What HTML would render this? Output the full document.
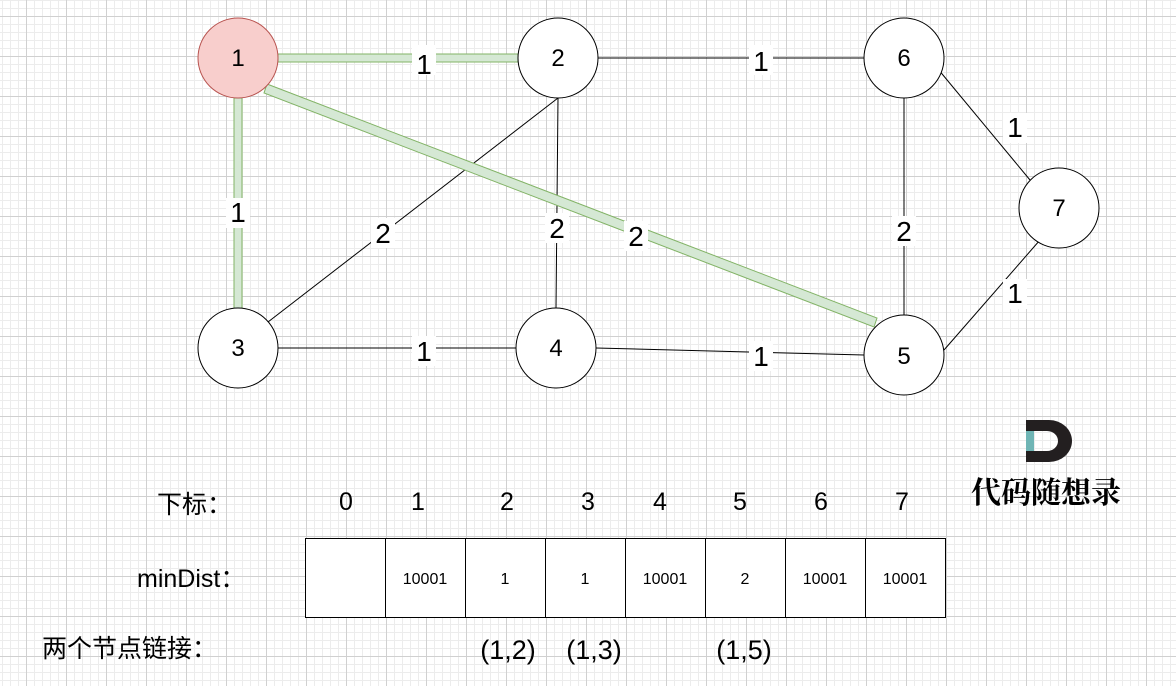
<!DOCTYPE html><html><head><style>
body{margin:0;width:1176px;height:686px;overflow:hidden;background:#fff;
background-image:linear-gradient(#d0d0d0 1px,transparent 1px),linear-gradient(90deg,#d0d0d0 1px,transparent 1px),linear-gradient(#ececec 1px,transparent 1px),linear-gradient(90deg,#ececec 1px,transparent 1px);
background-size:40px 40px,40px 40px,8px 8px,8px 8px;background-position:26px 16px,26px 16px,2px 0,2px 0;font-family:"Liberation Sans","Noto Sans CJK SC",sans-serif}
svg{position:absolute;left:0;top:0}
</style></head><body>
<svg width="1176" height="686" font-family="Liberation Sans, Noto Sans CJK SC, sans-serif">
<g stroke="#000" stroke-width="1">
<line x1="598" y1="58" x2="864" y2="58"/><line x1="933" y1="63" x2="1030" y2="180"/>
<line x1="1040" y1="240" x2="944" y2="350"/><line x1="904" y1="98" x2="904" y2="315"/>
<line x1="558" y1="98" x2="556" y2="308"/><line x1="558" y1="98" x2="268" y2="322"/>
<line x1="278" y1="348" x2="516" y2="348"/><line x1="596" y1="348" x2="864" y2="355"/>
</g>
<g fill="#d5e8d4" stroke="#82b366" stroke-width="1">
<rect x="278" y="54" width="240" height="8"/>
<rect x="234" y="98" width="8" height="212"/>
<polygon points="267,84 877,318 874,327 264,93"/>
</g>
<g font-size="28" text-anchor="middle">
<g fill="#fff"><rect x="412" y="45" width="24" height="30"/><rect x="749" y="45" width="24" height="30"/><rect x="1003" y="113" width="24" height="30"/><rect x="1003" y="279" width="24" height="30"/><rect x="892" y="216" width="24" height="30"/><rect x="226" y="198" width="24" height="30"/><rect x="371" y="218" width="24" height="30"/><rect x="545" y="213" width="24" height="30"/><rect x="624" y="221" width="24" height="30"/><rect x="412" y="336" width="24" height="30"/><rect x="749" y="341" width="24" height="30"/></g>
<text x="424" y="74">1</text><text x="761" y="71">1</text><text x="1015" y="137">1</text><text x="1015" y="303">1</text><text x="904" y="241">2</text><text x="238" y="222">1</text><text x="383" y="243">2</text><text x="557" y="238">2</text><text x="636" y="246">2</text><text x="424" y="361">1</text><text x="761" y="366">1</text>
</g>
<g stroke="#000" fill="#fff"><circle cx="238" cy="58" r="40" fill="#f8cecc" stroke="#b85450"/>
<circle cx="558" cy="58" r="40"/><circle cx="904" cy="58" r="40"/><circle cx="1059" cy="208" r="40"/>
<circle cx="238" cy="348" r="40"/><circle cx="556" cy="348" r="40"/><circle cx="904" cy="355" r="40"/></g>
<g font-size="24" text-anchor="middle">
<text x="238" y="66">1</text><text x="558" y="66">2</text><text x="904" y="66">6</text><text x="1059" y="216">7</text><text x="238" y="356">3</text><text x="556" y="356">4</text><text x="904" y="364">5</text>
</g>
<path d="M1026 420 H1049 A23 21 0 0 1 1049 462 H1026 Z M1034 431 V451 H1047 A11 10 0 0 0 1047 431 Z" fill="#231f20" fill-rule="evenodd"/>
<rect x="1026" y="431" width="8" height="20" fill="#6fb5b5"/>
<rect x="1026" y="420" width="8" height="11" fill="#231f20"/>
<text x="1046" y="503" font-size="30" font-weight="bold" text-anchor="middle" font-family="Noto Serif CJK SC, serif">代码随想录</text>
<g font-size="25"><text x="157" y="513">下标：</text><text x="137" y="587">minDist：</text><text x="42" y="657">两个节点链接：</text></g>
<g font-size="25" text-anchor="middle"><text x="346" y="510">0</text><text x="418" y="510">1</text><text x="507" y="510">2</text><text x="588" y="510">3</text><text x="660" y="510">4</text><text x="740" y="510">5</text><text x="821" y="510">6</text><text x="902" y="510">7</text></g>
<g font-size="27" text-anchor="middle"><text x="508" y="659">(1,2)</text><text x="594" y="659">(1,3)</text><text x="744" y="659">(1,5)</text></g>
<g stroke="#000" fill="#fff"><rect x="305.5" y="538.5" width="640" height="79"/></g>
<g stroke="#000"><line x1="385.5" y1="538" x2="385.5" y2="618"/><line x1="465.5" y1="538" x2="465.5" y2="618"/><line x1="545.5" y1="538" x2="545.5" y2="618"/><line x1="625.5" y1="538" x2="625.5" y2="618"/><line x1="705.5" y1="538" x2="705.5" y2="618"/><line x1="785.5" y1="538" x2="785.5" y2="618"/><line x1="865.5" y1="538" x2="865.5" y2="618"/></g>
<g font-size="16" text-anchor="middle"><text x="425" y="584">10001</text><text x="505" y="584">1</text><text x="585" y="584">1</text><text x="665" y="584">10001</text><text x="745" y="584">2</text><text x="825" y="584">10001</text><text x="905" y="584">10001</text></g>
</svg></body></html>
